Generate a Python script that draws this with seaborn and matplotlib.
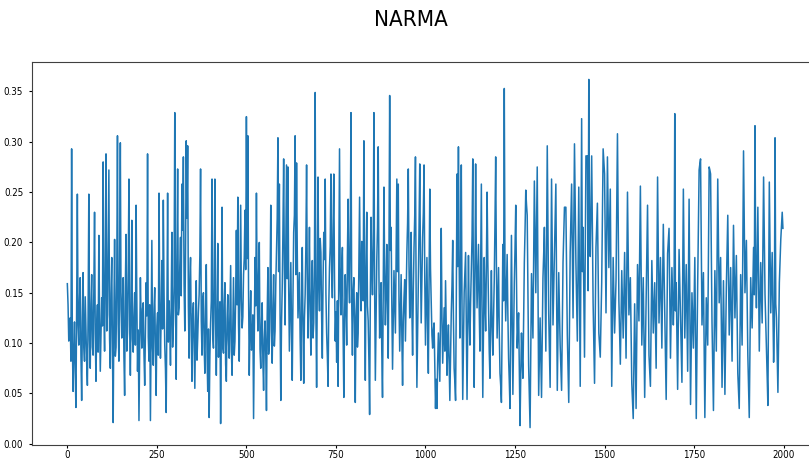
import numpy as np
import matplotlib
matplotlib.use("Agg")
import matplotlib.pyplot as plt
import seaborn as sns

# NARMA output, sampled every 2 time steps
narma = [
    0.159, 0.138, 0.102, 0.115, 0.125, 0.082, 0.293, 0.101, 0.052, 0.094,
    0.121, 0.072, 0.036, 0.134, 0.248, 0.118, 0.098, 0.142, 0.165, 0.088,
    0.043, 0.121, 0.170, 0.097, 0.082, 0.146, 0.112, 0.081, 0.058, 0.127,
    0.248, 0.103, 0.075, 0.139, 0.168, 0.096, 0.088, 0.152, 0.230, 0.109,
    0.062, 0.118, 0.138, 0.091, 0.207, 0.124, 0.072, 0.108, 0.145, 0.117,
    0.280, 0.131, 0.092, 0.176, 0.288, 0.112, 0.128, 0.198, 0.272, 0.104,
    0.075, 0.149, 0.185, 0.093, 0.021, 0.128, 0.203, 0.087, 0.096, 0.163,
    0.306, 0.119, 0.082, 0.174, 0.299, 0.134, 0.105, 0.142, 0.165, 0.087,
    0.048, 0.156, 0.208, 0.092, 0.110, 0.171, 0.263, 0.118, 0.068, 0.135,
    0.222, 0.104, 0.091, 0.127, 0.150, 0.098, 0.237, 0.145, 0.072, 0.113,
    0.023, 0.096, 0.165, 0.121, 0.095, 0.134, 0.140, 0.089, 0.058, 0.112,
    0.160, 0.127, 0.288, 0.106, 0.082, 0.138, 0.023, 0.109, 0.202, 0.095,
    0.078, 0.133, 0.155, 0.091, 0.048, 0.117, 0.130, 0.088, 0.249, 0.143,
    0.085, 0.126, 0.182, 0.114, 0.242, 0.152, 0.098, 0.074, 0.031, 0.128,
    0.249, 0.101, 0.142, 0.117, 0.078, 0.139, 0.210, 0.096, 0.118, 0.157,
    0.329, 0.141, 0.064, 0.183, 0.273, 0.128, 0.135, 0.176, 0.205, 0.147,
    0.258, 0.212, 0.285, 0.158, 0.112, 0.189, 0.301, 0.224, 0.296, 0.137,
    0.085, 0.162, 0.185, 0.108, 0.062, 0.129, 0.140, 0.094, 0.055, 0.118,
    0.162, 0.083, 0.105, 0.131, 0.148, 0.187, 0.273, 0.122, 0.088, 0.143,
    0.150, 0.097, 0.070, 0.132, 0.178, 0.091, 0.052, 0.114, 0.026, 0.087,
    0.120, 0.142, 0.263, 0.108, 0.095, 0.156, 0.263, 0.121, 0.068, 0.127,
    0.199, 0.086, 0.110, 0.141, 0.020, 0.112, 0.235, 0.096, 0.090, 0.138,
    0.160, 0.079, 0.062, 0.124, 0.148, 0.103, 0.085, 0.132, 0.177, 0.092,
    0.068, 0.115, 0.165, 0.088, 0.102, 0.147, 0.212, 0.138, 0.245, 0.119,
    0.082, 0.161, 0.237, 0.143, 0.115, 0.126, 0.168, 0.185, 0.232, 0.173,
    0.325, 0.184, 0.306, 0.152, 0.068, 0.117, 0.152, 0.093, 0.095, 0.128,
    0.025, 0.108, 0.185, 0.137, 0.249, 0.151, 0.112, 0.168, 0.200, 0.094,
    0.075, 0.118, 0.140, 0.082, 0.053, 0.104, 0.122, 0.091, 0.033, 0.126,
    0.175, 0.089, 0.098, 0.153, 0.237, 0.112, 0.080, 0.135, 0.168, 0.097,
    0.112, 0.158, 0.190, 0.224, 0.304, 0.171, 0.258, 0.128, 0.043, 0.119,
    0.155, 0.212, 0.283, 0.176, 0.118, 0.193, 0.277, 0.164, 0.275, 0.157,
    0.092, 0.138, 0.180, 0.112, 0.063, 0.146, 0.210, 0.227, 0.306, 0.168,
    0.279, 0.191, 0.125, 0.148, 0.170, 0.106, 0.063, 0.139, 0.195, 0.118,
    0.060, 0.124, 0.148, 0.195, 0.277, 0.162, 0.105, 0.154, 0.215, 0.133,
    0.088, 0.147, 0.182, 0.105, 0.120, 0.178, 0.349, 0.132, 0.056, 0.168,
    0.265, 0.158, 0.132, 0.204, 0.190, 0.127, 0.085, 0.162, 0.210, 0.183,
    0.263, 0.149, 0.110, 0.087, 0.057, 0.138, 0.175, 0.196, 0.268, 0.172,
    0.145, 0.213, 0.268, 0.164, 0.102, 0.131, 0.081, 0.142, 0.057, 0.169,
    0.293, 0.152, 0.128, 0.173, 0.195, 0.109, 0.046, 0.124, 0.168, 0.136,
    0.098, 0.187, 0.243, 0.162, 0.140, 0.211, 0.329, 0.141, 0.088, 0.152,
    0.165, 0.118, 0.041, 0.127, 0.150, 0.096, 0.110, 0.181, 0.245, 0.163,
    0.132, 0.201, 0.175, 0.142, 0.301, 0.158, 0.063, 0.174, 0.230, 0.137,
    0.122, 0.083, 0.029, 0.146, 0.225, 0.176, 0.148, 0.197, 0.329, 0.154,
    0.063, 0.121, 0.182, 0.215, 0.295, 0.168, 0.105, 0.137, 0.160, 0.092,
    0.046, 0.148, 0.255, 0.172, 0.118, 0.155, 0.198, 0.131, 0.085, 0.186,
    0.346, 0.192, 0.215, 0.138, 0.074, 0.126, 0.172, 0.139, 0.110, 0.184,
    0.263, 0.171, 0.258, 0.143, 0.092, 0.131, 0.168, 0.107, 0.058, 0.122,
    0.145, 0.163, 0.102, 0.148, 0.190, 0.219, 0.273, 0.176, 0.125, 0.158,
    0.210, 0.134, 0.088, 0.152, 0.195, 0.227, 0.285, 0.141, 0.056, 0.108,
    0.160, 0.214, 0.278, 0.183, 0.120, 0.161, 0.205, 0.229, 0.277, 0.164,
    0.098, 0.143, 0.185, 0.117, 0.070, 0.162, 0.253, 0.174, 0.142, 0.108,
    0.095, 0.113, 0.120, 0.078, 0.035, 0.064, 0.035, 0.082, 0.110, 0.087,
    0.062, 0.131, 0.214, 0.126, 0.080, 0.107, 0.135, 0.092, 0.162, 0.114,
    0.068, 0.097, 0.118, 0.079, 0.043, 0.088, 0.130, 0.157, 0.202, 0.124,
    0.075, 0.061, 0.043, 0.142, 0.268, 0.176, 0.295, 0.182, 0.105, 0.169,
    0.277, 0.136, 0.044, 0.098, 0.150, 0.171, 0.190, 0.113, 0.044, 0.115,
    0.187, 0.128, 0.098, 0.141, 0.175, 0.206, 0.283, 0.147, 0.056, 0.162,
    0.278, 0.184, 0.135, 0.167, 0.198, 0.133, 0.092, 0.171, 0.258, 0.129,
    0.046, 0.118, 0.185, 0.139, 0.112, 0.176, 0.250, 0.183, 0.140, 0.092,
    0.065, 0.124, 0.172, 0.117, 0.088, 0.128, 0.162, 0.219, 0.285, 0.178,
    0.105, 0.138, 0.175, 0.112, 0.070, 0.058, 0.041, 0.124, 0.198, 0.142,
    0.353, 0.168, 0.122, 0.153, 0.188, 0.129, 0.085, 0.062, 0.035, 0.118,
    0.207, 0.126, 0.049, 0.103, 0.160, 0.194, 0.237, 0.161, 0.095, 0.114,
    0.130, 0.073, 0.018, 0.068, 0.110, 0.084, 0.065, 0.121, 0.180, 0.213,
    0.252, 0.238, 0.227, 0.149, 0.078, 0.047, 0.016, 0.087, 0.169, 0.136,
    0.105, 0.178, 0.261, 0.203, 0.150, 0.211, 0.275, 0.162, 0.048, 0.087,
    0.125, 0.084, 0.046, 0.102, 0.165, 0.188, 0.215, 0.153, 0.092, 0.194,
    0.296, 0.211, 0.130, 0.093, 0.056, 0.158, 0.263, 0.187, 0.118, 0.154,
    0.192, 0.224, 0.258, 0.156, 0.053, 0.112, 0.170, 0.134, 0.098, 0.076,
    0.053, 0.117, 0.180, 0.207, 0.235, 0.235, 0.235, 0.172, 0.108, 0.074,
    0.041, 0.115, 0.190, 0.224, 0.258, 0.191, 0.125, 0.212, 0.298, 0.239,
    0.180, 0.141, 0.102, 0.178, 0.255, 0.156, 0.057, 0.190, 0.323, 0.171,
    0.215, 0.151, 0.086, 0.186, 0.286, 0.286, 0.286, 0.152, 0.362, 0.198,
    0.186, 0.236, 0.286, 0.213, 0.140, 0.100, 0.060, 0.128, 0.195, 0.217,
    0.239, 0.174, 0.110, 0.098, 0.086, 0.123, 0.160, 0.226, 0.293, 0.281,
    0.268, 0.199, 0.130, 0.207, 0.285, 0.230, 0.175, 0.214, 0.253, 0.155,
    0.057, 0.121, 0.185, 0.148, 0.110, 0.136, 0.162, 0.235, 0.308, 0.225,
    0.142, 0.111, 0.079, 0.126, 0.172, 0.139, 0.105, 0.148, 0.190, 0.138,
    0.085, 0.168, 0.250, 0.189, 0.128, 0.147, 0.165, 0.113, 0.060, 0.042,
    0.025, 0.082, 0.139, 0.087, 0.035, 0.107, 0.178, 0.150, 0.122, 0.189,
    0.256, 0.177, 0.098, 0.132, 0.165, 0.106, 0.046, 0.093, 0.140, 0.189,
    0.237, 0.163, 0.088, 0.072, 0.057, 0.120, 0.182, 0.146, 0.110, 0.135,
    0.160, 0.118, 0.075, 0.170, 0.265, 0.193, 0.120, 0.153, 0.185, 0.140,
    0.095, 0.157, 0.218, 0.174, 0.130, 0.087, 0.044, 0.117, 0.189, 0.202,
    0.214, 0.150, 0.085, 0.130, 0.175, 0.147, 0.118, 0.146, 0.328, 0.132,
    0.160, 0.107, 0.054, 0.124, 0.193, 0.161, 0.128, 0.095, 0.061, 0.157,
    0.253, 0.179, 0.105, 0.142, 0.178, 0.125, 0.072, 0.158, 0.243, 0.141,
    0.039, 0.095, 0.150, 0.123, 0.095, 0.140, 0.185, 0.105, 0.025, 0.093,
    0.160, 0.216, 0.272, 0.278, 0.283, 0.201, 0.118, 0.144, 0.170, 0.098,
    0.026, 0.086, 0.145, 0.122, 0.098, 0.187, 0.275, 0.272, 0.268, 0.194,
    0.120, 0.077, 0.033, 0.103, 0.172, 0.132, 0.092, 0.178, 0.263, 0.202,
    0.140, 0.163, 0.185, 0.121, 0.056, 0.109, 0.162, 0.106, 0.049, 0.102,
    0.155, 0.191, 0.227, 0.168, 0.108, 0.142, 0.175, 0.129, 0.082, 0.150,
    0.217, 0.171, 0.125, 0.156, 0.187, 0.129, 0.070, 0.053, 0.035, 0.102,
    0.168, 0.133, 0.098, 0.195, 0.291, 0.221, 0.150, 0.176, 0.202, 0.145,
    0.088, 0.057, 0.026, 0.096, 0.165, 0.140, 0.115, 0.155, 0.195, 0.148,
    0.316, 0.171, 0.135, 0.185, 0.235, 0.164, 0.092, 0.136, 0.180, 0.150,
    0.120, 0.193, 0.265, 0.207, 0.148, 0.122, 0.095, 0.067, 0.038, 0.149,
    0.260, 0.195, 0.130, 0.160, 0.190, 0.136, 0.081, 0.117, 0.304, 0.139,
    0.125, 0.088, 0.051, 0.106, 0.160, 0.182, 0.203, 0.217, 0.230, 0.214,
]
steps = np.arange(0, 2 * len(narma), 2)

fig = plt.figure(figsize=(8.09, 4.61), dpi=100)
ax = fig.add_axes([0.039, 0.0347, 0.973, 0.8308])

sns.lineplot(x=steps, y=narma, ax=ax, color="#1f77b4", linewidth=1.1)

fig.suptitle("NARMA", fontsize=16, x=0.508, y=0.957, va="center",
             fontstretch="condensed")
ax.tick_params(labelsize=7, length=2.5)
ax.tick_params(axis="x", pad=1.0)
for lab in ax.get_xticklabels() + ax.get_yticklabels():
    lab.set_fontstretch("condensed")
for sp in ax.spines.values():
    sp.set_color("0.25")

fig.savefig("out.png", dpi=100)
